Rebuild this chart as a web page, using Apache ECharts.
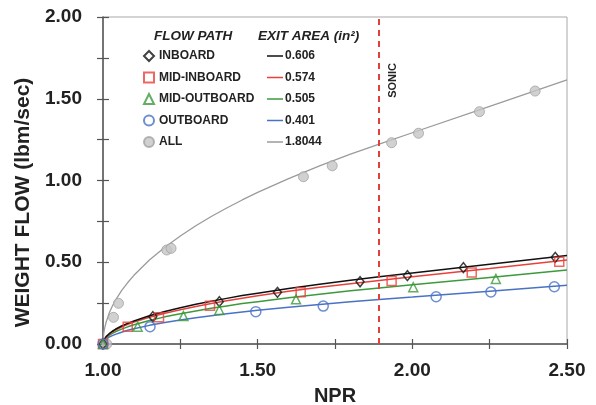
<!DOCTYPE html>
<html><head><meta charset="utf-8">
<script src="https://cdn.jsdelivr.net/npm/echarts@6/dist/echarts.min.js"></script>
<style>html,body{margin:0;padding:0;background:#fff}#c{width:596px;height:405px}</style>
</head><body><div id="c"></div>
<script>
// ---- data ----
const X_TICK_LABELS = ['1.00', '1.50', '2.00', '2.50'];
const Y_TICK_LABELS = ['0.00', '0.50', '1.00', '1.50', '2.00'];
const SONIC_NPR = 1.893;

const FLOW_PATHS = ['INBOARD', 'MID-INBOARD', 'MID-OUTBOARD', 'OUTBOARD', 'ALL'];
const EXIT_AREAS = ['0.606', '0.574', '0.505', '0.401', '1.8044'];

// fitted curves (NPR -> weight flow)
const CURVE_NPR      = [1.0, 1.0025, 1.005, 1.01, 1.02, 1.03, 1.04, 1.06, 1.08, 1.1, 1.15, 1.2, 1.25, 1.3, 1.35, 1.4, 1.45, 1.5, 1.6, 1.7, 1.8, 1.893, 2.0, 2.25, 2.5];
const INBOARD_CURVE  = [0, 0.022, 0.032, 0.045, 0.063, 0.078, 0.090, 0.110, 0.126, 0.141, 0.173, 0.199, 0.222, 0.243, 0.262, 0.279, 0.296, 0.311, 0.340, 0.366, 0.390, 0.411, 0.434, 0.488, 0.542];
const MIDIN_CURVE    = [0, 0.021, 0.030, 0.042, 0.060, 0.073, 0.085, 0.104, 0.120, 0.134, 0.164, 0.188, 0.210, 0.230, 0.248, 0.265, 0.280, 0.295, 0.322, 0.347, 0.369, 0.389, 0.411, 0.462, 0.514];
const MIDOUT_CURVE   = [0, 0.019, 0.026, 0.037, 0.053, 0.065, 0.075, 0.091, 0.105, 0.118, 0.144, 0.166, 0.185, 0.202, 0.218, 0.233, 0.247, 0.259, 0.283, 0.305, 0.325, 0.342, 0.362, 0.407, 0.452];
const OUTBOARD_CURVE = [0, 0.015, 0.021, 0.030, 0.042, 0.051, 0.059, 0.072, 0.084, 0.093, 0.114, 0.132, 0.147, 0.161, 0.173, 0.185, 0.196, 0.206, 0.225, 0.242, 0.258, 0.272, 0.287, 0.323, 0.359];
const ALL_CURVE      = [0, 0.067, 0.094, 0.133, 0.189, 0.231, 0.267, 0.326, 0.376, 0.420, 0.514, 0.592, 0.661, 0.723, 0.780, 0.832, 0.881, 0.927, 1.012, 1.090, 1.161, 1.223, 1.292, 1.454, 1.615];

// measured points
const INBOARD_PTS_NPR  = [1.0, 1.161, 1.376, 1.564, 1.831, 1.984, 2.165, 2.462];
const INBOARD_PTS_W    = [0.0, 0.167, 0.259, 0.316, 0.381, 0.418, 0.467, 0.530];
const MIDIN_PTS_NPR    = [1.0, 1.080, 1.181, 1.346, 1.639, 1.933, 2.192, 2.475];
const MIDIN_PTS_W      = [0.0, 0.106, 0.163, 0.234, 0.316, 0.385, 0.438, 0.503];
const MIDOUT_PTS_NPR   = [1.0, 1.112, 1.260, 1.376, 1.624, 2.003, 2.270];
const MIDOUT_PTS_W     = [0.0, 0.106, 0.171, 0.208, 0.273, 0.347, 0.398];
const OUTBOARD_PTS_NPR = [1.0, 1.152, 1.494, 1.712, 2.077, 2.254, 2.459];
const OUTBOARD_PTS_W   = [0.0, 0.106, 0.198, 0.232, 0.289, 0.318, 0.350];
const ALL_PTS_NPR      = [1.012, 1.034, 1.050, 1.206, 1.220, 1.648, 1.741, 1.933, 2.020, 2.217, 2.397];
const ALL_PTS_W        = [0.0, 0.163, 0.249, 0.575, 0.585, 1.023, 1.090, 1.231, 1.289, 1.421, 1.547];

// ---- styling ----
const FONT = '"Liberation Sans", Arial, sans-serif';
const COLORS = ['#111111', '#e8413c', '#3c9a3c', '#4a72c4', '#9b9b9b'];
const AXIS_COLOR = '#555';
const TEXT_COLOR = '#222';

const zip = (xs, ys) => xs.map((x, i) => [x, ys[i]]);
const curves = [INBOARD_CURVE, MIDIN_CURVE, MIDOUT_CURVE, OUTBOARD_CURVE, ALL_CURVE];
const ptsX = [INBOARD_PTS_NPR, MIDIN_PTS_NPR, MIDOUT_PTS_NPR, OUTBOARD_PTS_NPR, ALL_PTS_NPR];
const ptsY = [INBOARD_PTS_W, MIDIN_PTS_W, MIDOUT_PTS_W, OUTBOARD_PTS_W, ALL_PTS_W];
const symbols = ['diamond', 'rect', 'triangle', 'circle', 'circle'];
const symbolSizes = [[8, 10], 9, 9, 10, 10];

const series = [];
[4, 3, 2, 1, 0].forEach(i => {
  series.push({
    name: EXIT_AREAS[i], type: 'line', xAxisIndex: 0, yAxisIndex: 0,
    data: zip(CURVE_NPR, curves[i]), symbol: 'none', showSymbol: false,
    smooth: false,
    lineStyle: { color: COLORS[i], width: i === 4 ? 1.3 : 1.5 },
    itemStyle: { color: COLORS[i] },
    z: 2
  });
});
series.push({
  name: 'sonic', type: 'line', xAxisIndex: 0, yAxisIndex: 0, data: [],
  markLine: {
    silent: true, symbol: ['none', 'none'],
    lineStyle: { color: '#e0413a', width: 2, type: [6, 5] },
    label: {
      show: true, formatter: 'SONIC', position: 'insideEndBottom',
      distance: [46, 9],
      color: TEXT_COLOR, fontFamily: FONT, fontWeight: 'bold', fontSize: 11
    },
    data: [{ xAxis: SONIC_NPR }]
  }
});
[4, 0, 1, 2, 3].forEach(i => {
  series.push({
    name: FLOW_PATHS[i], type: 'scatter', xAxisIndex: 0, yAxisIndex: 0,
    data: zip(ptsX[i], ptsY[i]), symbol: symbols[i], symbolSize: symbolSizes[i],
    clip: false,
    itemStyle: i === 4
      ? { color: '#c6c6c6', borderColor: '#a2a2a2', borderWidth: 1 }
      : { color: 'rgba(255,255,255,0)', borderColor: COLORS[i], borderWidth: 1.5 },
    z: 3
  });
});

const gridPos = { left: 103, right: 29, top: 17, bottom: 61, containLabel: false, outerBoundsMode: 'none' };
const labelFmt = (list) => (v) => { const s = v.toFixed(2); return list.indexOf(s) >= 0 ? s : ''; };
const axisLabelStyle = { color: TEXT_COLOR, fontFamily: FONT, fontWeight: 'bold', fontSize: 19 };
const legendText = { color: TEXT_COLOR, fontFamily: FONT, fontWeight: 'bold', fontSize: 12 };

const option = {
  animation: false,
  backgroundColor: '#fff',
  grid: [
    Object.assign({ show: true, borderColor: '#a8a8a8', borderWidth: 1, backgroundColor: '#fff' }, gridPos),
    Object.assign({ show: false }, gridPos)
  ],
  xAxis: [
    {
      type: 'value', gridIndex: 0, min: 1, max: 2.5, interval: 0.25,
      axisLine: { show: true, onZero: false, lineStyle: { color: AXIS_COLOR, width: 1.5 } },
      axisTick: { show: true, length: 5, lineStyle: { color: AXIS_COLOR, width: 1.2 } },
      axisLabel: Object.assign({ formatter: labelFmt(X_TICK_LABELS), margin: 17 }, axisLabelStyle),
      splitLine: { show: false },
      name: 'NPR', nameLocation: 'middle', nameGap: 42,
      nameTextStyle: { color: TEXT_COLOR, fontFamily: FONT, fontWeight: 'bold', fontSize: 20 }
    },
    {
      type: 'value', gridIndex: 1, min: 1, max: 2.5, interval: 0.25,
      axisLine: { show: false, onZero: false },
      axisTick: { show: true, inside: true, length: 5, lineStyle: { color: AXIS_COLOR, width: 1.2 } },
      axisLabel: { show: false }, splitLine: { show: false }
    }
  ],
  yAxis: [
    {
      type: 'value', gridIndex: 0, min: 0, max: 2, interval: 0.25,
      axisLine: { show: true, onZero: false, lineStyle: { color: AXIS_COLOR, width: 1.5 } },
      axisTick: { show: true, length: 6, lineStyle: { color: AXIS_COLOR, width: 1.2 } },
      axisLabel: Object.assign({ formatter: labelFmt(Y_TICK_LABELS), margin: 21 }, axisLabelStyle),
      splitLine: { show: false },
      name: 'WEIGHT FLOW (lbm/sec)', nameLocation: 'middle', nameGap: 66,
      nameTextStyle: { color: TEXT_COLOR, fontFamily: FONT, fontWeight: 'bold', fontSize: 21, padding: [0, 44, 0, 0] }
    },
    {
      type: 'value', gridIndex: 1, min: 0, max: 2, interval: 0.25,
      axisLine: { show: false, onZero: false },
      axisTick: { show: true, inside: true, length: 6, lineStyle: { color: AXIS_COLOR, width: 1.2 } },
      axisLabel: { show: false }, splitLine: { show: false }
    }
  ],
  legend: [
    {
      data: FLOW_PATHS, orient: 'vertical', left: 143, top: 50, padding: 0,
      itemWidth: 10, itemHeight: 10, itemGap: 9.5, selectedMode: false,
      textStyle: legendText
    },
    {
      data: EXIT_AREAS, orient: 'vertical', left: 267, top: 50, padding: 0,
      icon: 'rect', itemWidth: 16, itemHeight: 1.5, itemGap: 9.5, selectedMode: false,
      textStyle: Object.assign({ padding: [0, 0, 0, -3] }, legendText)
    }
  ],
  graphic: [
    { type: 'text', left: 154, top: 29, style: { text: 'FLOW PATH', fill: TEXT_COLOR, font: 'italic bold 13.5px ' + FONT } },
    { type: 'text', left: 258, top: 29, style: { text: 'EXIT AREA (in²)', fill: TEXT_COLOR, font: 'italic bold 13.5px ' + FONT } }
  ],
  series: series
};

const chart = echarts.init(document.getElementById('c'), null, { renderer: 'canvas' });
chart.setOption(option);
</script>
</body></html>
